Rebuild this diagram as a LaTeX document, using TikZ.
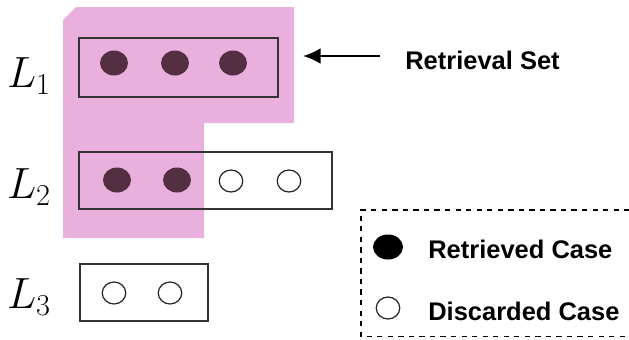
\documentclass[tikz,border=0pt]{standalone}
\usepackage{fontspec}
\setsansfont{Liberation Sans}
\usepackage{tikz}
\usepackage{xcolor}
\usetikzlibrary{arrows.meta,positioning,shapes.geometric}

\definecolor{setpink}{RGB}{234,176,221}
\definecolor{casedark}{RGB}{84,47,66}

\tikzset{
  fulldot/.style={ellipse,fill=casedark,minimum width=0.56cm,minimum height=0.5cm,inner sep=0pt},
  opendot/.style={ellipse,draw=black!85,line width=0.7pt,minimum width=0.47cm,minimum height=0.44cm,inner sep=0pt},
  levelbox/.style={draw=black!80,line width=0.7pt,inner sep=0pt},
  levelname/.style={font=\fontsize{23}{25}\selectfont,inner sep=0pt},
  legendtext/.style={font=\sffamily\bfseries\fontsize{14.5}{16}\selectfont,anchor=west,inner sep=0pt}
}

\begin{document}
\begin{tikzpicture}[x=0.02cm,y=-0.02cm]
\useasboundingbox (0,0) rectangle (629,339);
\fill[setpink] (63,20) -- (76,7) -- (294,7) -- (294,123) -- (204,123) -- (204,238) -- (63,238) -- cycle;
\node[levelbox,minimum width=3.98cm,minimum height=1.18cm] (box1) at (178.5,67.5) {};
\node[levelbox,minimum width=5.06cm,minimum height=1.14cm] (box2) at (205.5,180.5) {};
\node[levelbox,minimum width=2.56cm,minimum height=1.14cm] (box3) at (144,292.5) {};
\node[levelname] (l1) at (29,76) {$L_1$};
\node[levelname] (l2) at (29,187) {$L_2$};
\node[levelname] (l3) at (29,297) {$L_3$};
\node[fulldot] (c11) at (114,63) {};
\node[fulldot] (c12) at (175,63) {};
\node[fulldot] (c13) at (233,63) {};
\node[fulldot] (c21) at (117,180) {};
\node[fulldot] (c22) at (177,180) {};
\node[opendot] (c23) at (231,181) {};
\node[opendot] (c24) at (289,181) {};
\node[opendot] (c31) at (114,293) {};
\node[opendot] (c32) at (170,293) {};
\node[legendtext] (rset) at (405,60) {Retrieval Set};
\coordinate (tip) at (303,56);
\draw[-{Latex[length=10pt,width=9pt]},line width=1.1pt] (380,56) -- (tip);
% legend, its right side runs off the page
\draw[dashed,line width=0.7pt] (640,210) -- (361,210) -- (361,336.5) -- (640,336.5);
\node[fulldot,fill=black,minimum width=0.6cm] (kfull) at (388,247) {};
\node[opendot] (kopen) at (388,308) {};
\node[legendtext] (kret) at (428,249) {Retrieved Case};
\node[legendtext] (kdis) at (428,311) {Discarded Case};
\end{tikzpicture}
\end{document}
